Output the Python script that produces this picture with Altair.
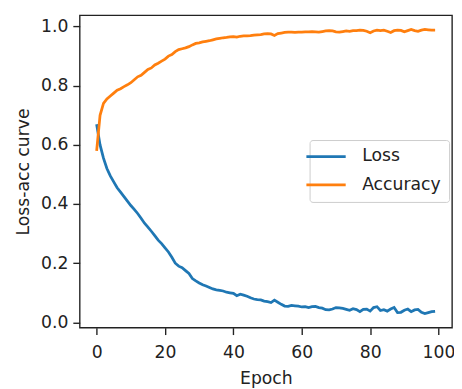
import altair as alt
import pandas as pd

epochs = list(range(100))
loss = [0.67, 0.60, 0.555, 0.52, 0.495, 0.475, 0.455, 0.44, 0.425, 0.41,
        0.395, 0.382, 0.368, 0.352, 0.335, 0.322, 0.308, 0.293, 0.278, 0.266,
        0.252, 0.238, 0.22, 0.2, 0.19, 0.185, 0.175, 0.165, 0.148, 0.14,
        0.133, 0.127, 0.123, 0.118, 0.113, 0.11, 0.108, 0.106, 0.102, 0.1,
        0.098, 0.09, 0.095, 0.092, 0.088, 0.083, 0.079, 0.077, 0.076, 0.072,
        0.07, 0.067, 0.075, 0.068, 0.061, 0.055, 0.054, 0.057, 0.056, 0.055,
        0.052, 0.053, 0.05, 0.053, 0.054, 0.05, 0.048, 0.043, 0.042, 0.045,
        0.05, 0.049, 0.047, 0.044, 0.041, 0.046, 0.043, 0.036, 0.044, 0.045,
        0.038, 0.05, 0.053, 0.04, 0.043, 0.038, 0.045, 0.05, 0.033, 0.034,
        0.041, 0.045, 0.036, 0.042, 0.044, 0.034, 0.03, 0.033, 0.036, 0.037]
accuracy = [0.58, 0.70, 0.74, 0.755, 0.765, 0.775, 0.785, 0.79, 0.797, 0.803,
            0.81, 0.82, 0.83, 0.835, 0.845, 0.855, 0.86, 0.87, 0.876, 0.883,
            0.89, 0.9, 0.905, 0.915, 0.922, 0.925, 0.928, 0.932, 0.938, 0.943,
            0.945, 0.948, 0.95, 0.952, 0.955, 0.958, 0.96, 0.962, 0.963, 0.965,
            0.966, 0.964, 0.967, 0.968, 0.968, 0.969, 0.971, 0.972, 0.973, 0.975,
            0.976, 0.975, 0.97, 0.976, 0.978, 0.98, 0.981, 0.981, 0.98, 0.981,
            0.981, 0.982, 0.982, 0.983, 0.982, 0.981, 0.983, 0.985, 0.986, 0.985,
            0.982, 0.981, 0.983, 0.985, 0.984, 0.986, 0.986, 0.988, 0.987, 0.984,
            0.979, 0.985, 0.988, 0.986, 0.988, 0.984, 0.98, 0.986, 0.988, 0.987,
            0.982, 0.986, 0.99, 0.986, 0.984, 0.988, 0.99, 0.989, 0.988, 0.988]
series_names = ["Loss", "Accuracy"]
series_colors = ["#1f77b4", "#ff7f0e"]
x_ticks = [0, 20, 40, 60, 80, 100]
y_ticks = [0.0, 0.2, 0.4, 0.6, 0.8, 1.0]

df = pd.concat([
    pd.DataFrame({"Epoch": epochs, "value": loss, "series": "Loss"}),
    pd.DataFrame({"Epoch": epochs, "value": accuracy, "series": "Accuracy"}),
])

FONT = "DejaVu Sans"
FS = 17.5

x = alt.X("Epoch:Q", scale=alt.Scale(domain=[-4.95, 103.95], nice=False, zero=False),
          axis=alt.Axis(values=x_ticks, title="Epoch", format="d", labelPadding=9, titlePadding=9))
y = alt.Y("value:Q", scale=alt.Scale(domain=[-0.018, 1.038], nice=False, zero=False),
          axis=alt.Axis(values=y_ticks, title="Loss-acc curve", format=".1f", titlePadding=8))
color = alt.Color("series:N", scale=alt.Scale(domain=series_names, range=series_colors),
                  sort=series_names,
                  legend=alt.Legend(title=None, orient="none", legendX=234, legendY=127,
                                    symbolType="M-4,0H4", symbolSize=100, symbolStrokeWidth=2.8,
                                    labelFont=FONT, labelFontSize=FS, labelColor="#222",
                                    labelOffset=28, rowPadding=10, padding=8,
                                    strokeColor="#cccccc", cornerRadius=3, fillColor="white"))

base = alt.Chart(df).mark_line(strokeWidth=2.8).encode(x=x, y=y, color=color)
chart = alt.layer(
    base.transform_filter(alt.datum.series == "Loss"),
    base.transform_filter(alt.datum.series == "Accuracy"),
).properties(
    width=379, height=318,
    autosize=alt.AutoSizeParams(type="none"),
    padding={"left": 73, "top": 4, "right": 2, "bottom": 59},
    background="white",
).configure_view(
    stroke="#222", strokeWidth=1.4
).configure_axis(
    grid=False, domain=False,
    labelFont=FONT, labelFontSize=FS, labelColor="#222",
    titleFont=FONT, titleFontSize=FS, titleFontWeight="normal", titleColor="#222",
    tickColor="#222", tickSize=7, tickWidth=1.4, labelPadding=5,
)

chart.save("out.html", embed_options={"renderer": "svg", "actions": False})
